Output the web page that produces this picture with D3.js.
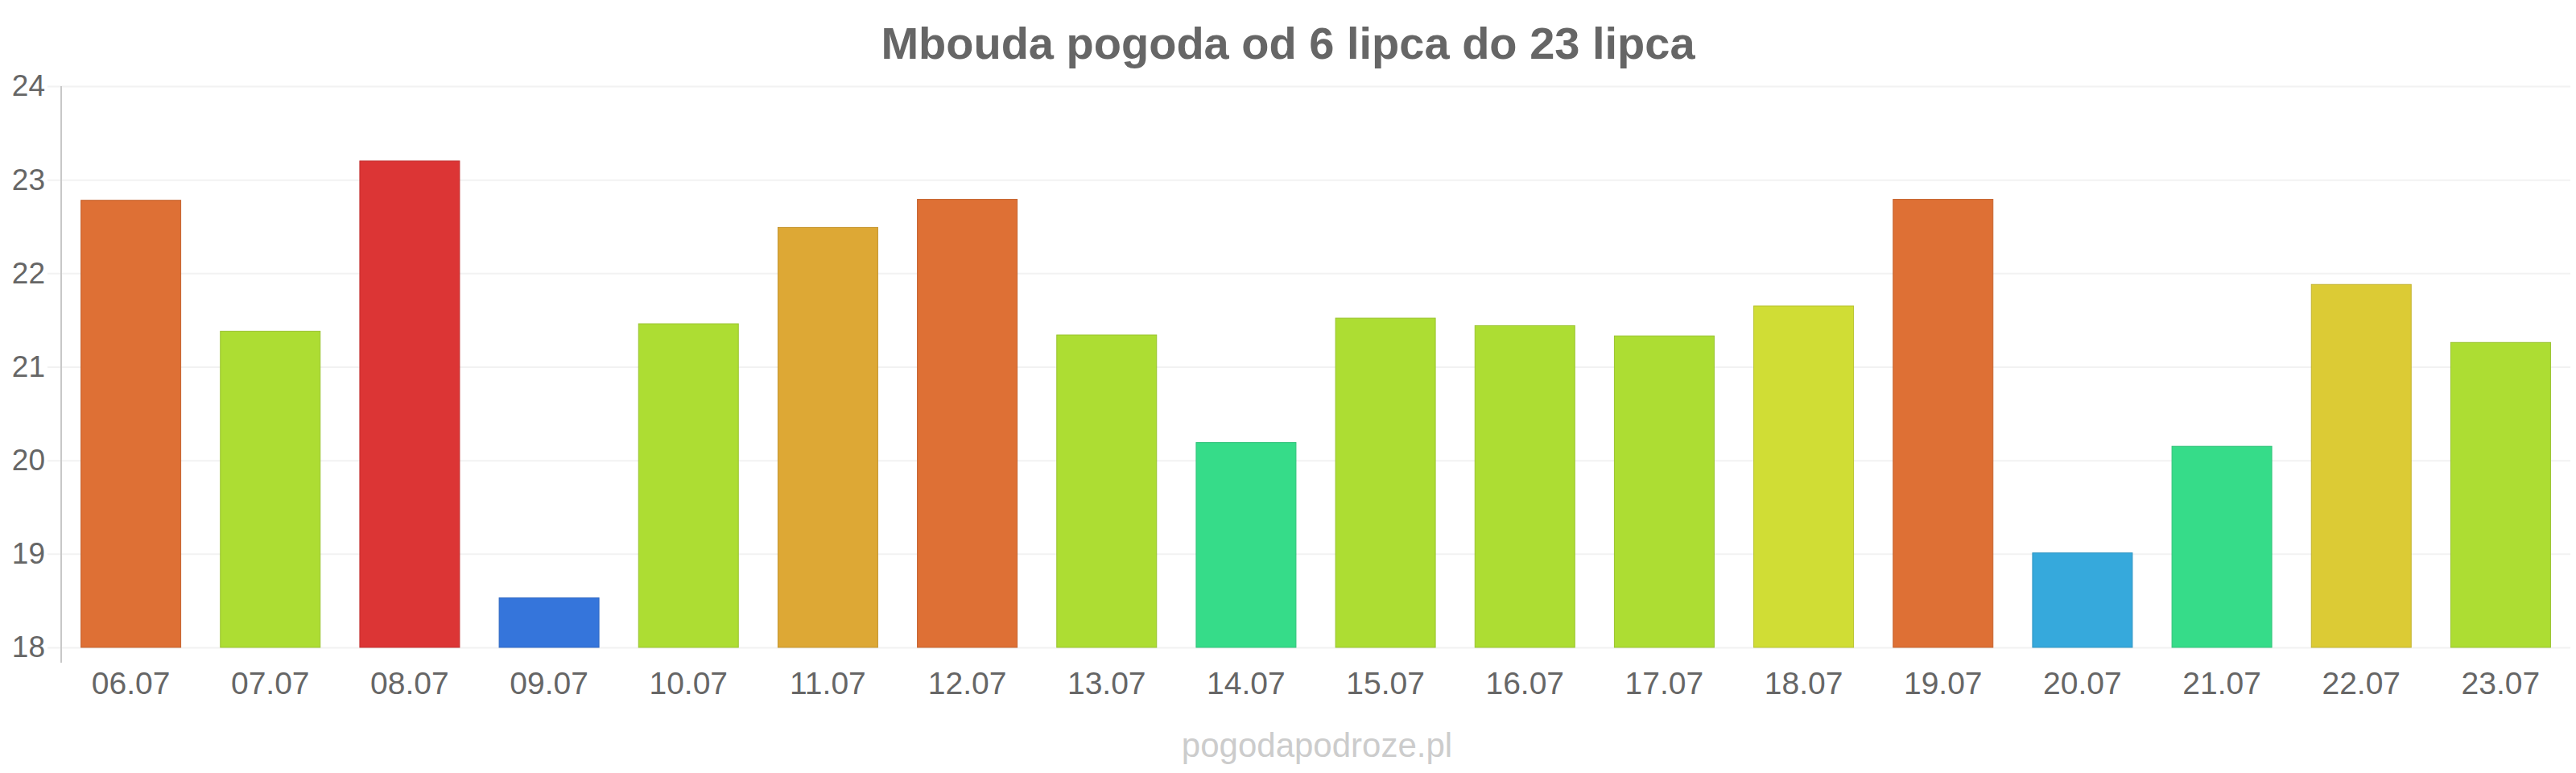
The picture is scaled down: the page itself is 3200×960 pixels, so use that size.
<!DOCTYPE html>
<html lang="pl">
<head>
    <meta charset="UTF-8">
    <title>Mbouda pogoda</title>
    <script src="https://d3js.org/d3.v7.js"></script>
    <style>
        body { margin: 0; background: #fff; }
        text { font-family: "Liberation Sans", Arial, sans-serif; }
    </style>
</head>
<body>
<svg></svg>
<script>
    // data
    const days = ["06.07", "07.07", "08.07", "09.07", "10.07", "11.07", "12.07", "13.07", "14.07",
        "15.07", "16.07", "17.07", "18.07", "19.07", "20.07", "21.07", "22.07", "23.07"];
    const temps = [22.78, 21.38, 23.2, 18.53, 21.46, 22.49, 22.79, 21.34, 20.19,
        21.52, 21.44, 21.33, 21.65, 22.79, 19.01, 20.15, 21.88, 21.26];
    const yTicks = [18, 19, 20, 21, 22, 23, 24];
    const title = "Mbouda pogoda od 6 lipca do 23 lipca";
    const credit = "pogodapodroze.pl";

    const width = 3200, height = 960;
    const svg = d3.select("svg").attr("width", width).attr("height", height);

    const plotLeft = 76, plotRight = 3193, plotTop = 107, plotBottom = 804;

    const x = d3.scaleBand().domain(days).range([plotLeft, plotRight]).paddingInner(0.284).paddingOuter(0.142);
    const y = d3.scaleLinear().domain([18, 24]).range([plotBottom, plotTop]);

    // temperature -> colour
    const color = d3.scaleThreshold()
        .domain([18.8, 19.5, 21, 21.6, 21.8, 22, 22.7, 23])
        .range(["#3575db", "#36a9dc", "#36dc89", "#addd33", "#d0dd35", "#dccb35", "#dda835", "#de7035", "#dc3535"]);

    // gridlines
    svg.append("g")
        .attr("transform", `translate(${plotLeft},0)`)
        .call(d3.axisLeft(y).tickValues(yTicks).tickSize(-(plotRight - plotLeft)).tickFormat(""))
        .call(g => g.select(".domain").remove())
        .call(g => g.selectAll("line")
            .attr("stroke", "#f2f2f2").attr("stroke-width", 2)
            .attr("x1", -17).attr("x2", plotRight - plotLeft));

    // bars
    svg.selectAll("rect.bar")
        .data(temps)
        .join("rect")
        .attr("class", "bar")
        .attr("x", (d, i) => x(days[i]))
        .attr("y", d => y(d))
        .attr("width", x.bandwidth())
        .attr("height", d => y(18) - y(d))
        .attr("fill", d => color(d))
        .attr("stroke", d => d3.color(color(d)).darker(0.35))
        .attr("stroke-width", 1);

    // y axis
    svg.append("line")
        .attr("x1", plotLeft).attr("x2", plotLeft)
        .attr("y1", plotTop).attr("y2", 823)
        .attr("stroke", "#c8c8c8").attr("stroke-width", 2);

    svg.append("g")
        .attr("transform", `translate(${plotLeft},0)`)
        .call(d3.axisLeft(y).tickValues(yTicks).tickFormat(d3.format("d")).tickSize(0).tickPadding(20))
        .call(g => g.select(".domain").remove())
        .call(g => g.selectAll("text")
            .attr("fill", "#666")
            .style("font-size", "37px")
            .style("font-family", "Liberation Sans, Arial, sans-serif"));

    // x axis labels
    svg.append("g")
        .attr("transform", `translate(0,${plotBottom})`)
        .call(d3.axisBottom(x).tickSize(0).tickPadding(0))
        .call(g => g.select(".domain").remove())
        .call(g => g.selectAll("text")
            .attr("y", 58).attr("dy", 0)
            .attr("fill", "#666")
            .style("font-size", "39px")
            .style("font-family", "Liberation Sans, Arial, sans-serif"));

    // title
    svg.append("text")
        .attr("x", 1600).attr("y", 73)
        .attr("text-anchor", "middle")
        .attr("fill", "#666")
        .style("font-size", "56px")
        .style("font-weight", "bold")
        .text(title);

    // credit
    svg.append("text")
        .attr("x", 1636).attr("y", 940)
        .attr("text-anchor", "middle")
        .attr("fill", "#cccccc")
        .style("font-size", "42px")
        .text(credit);
</script>
</body>
</html>
